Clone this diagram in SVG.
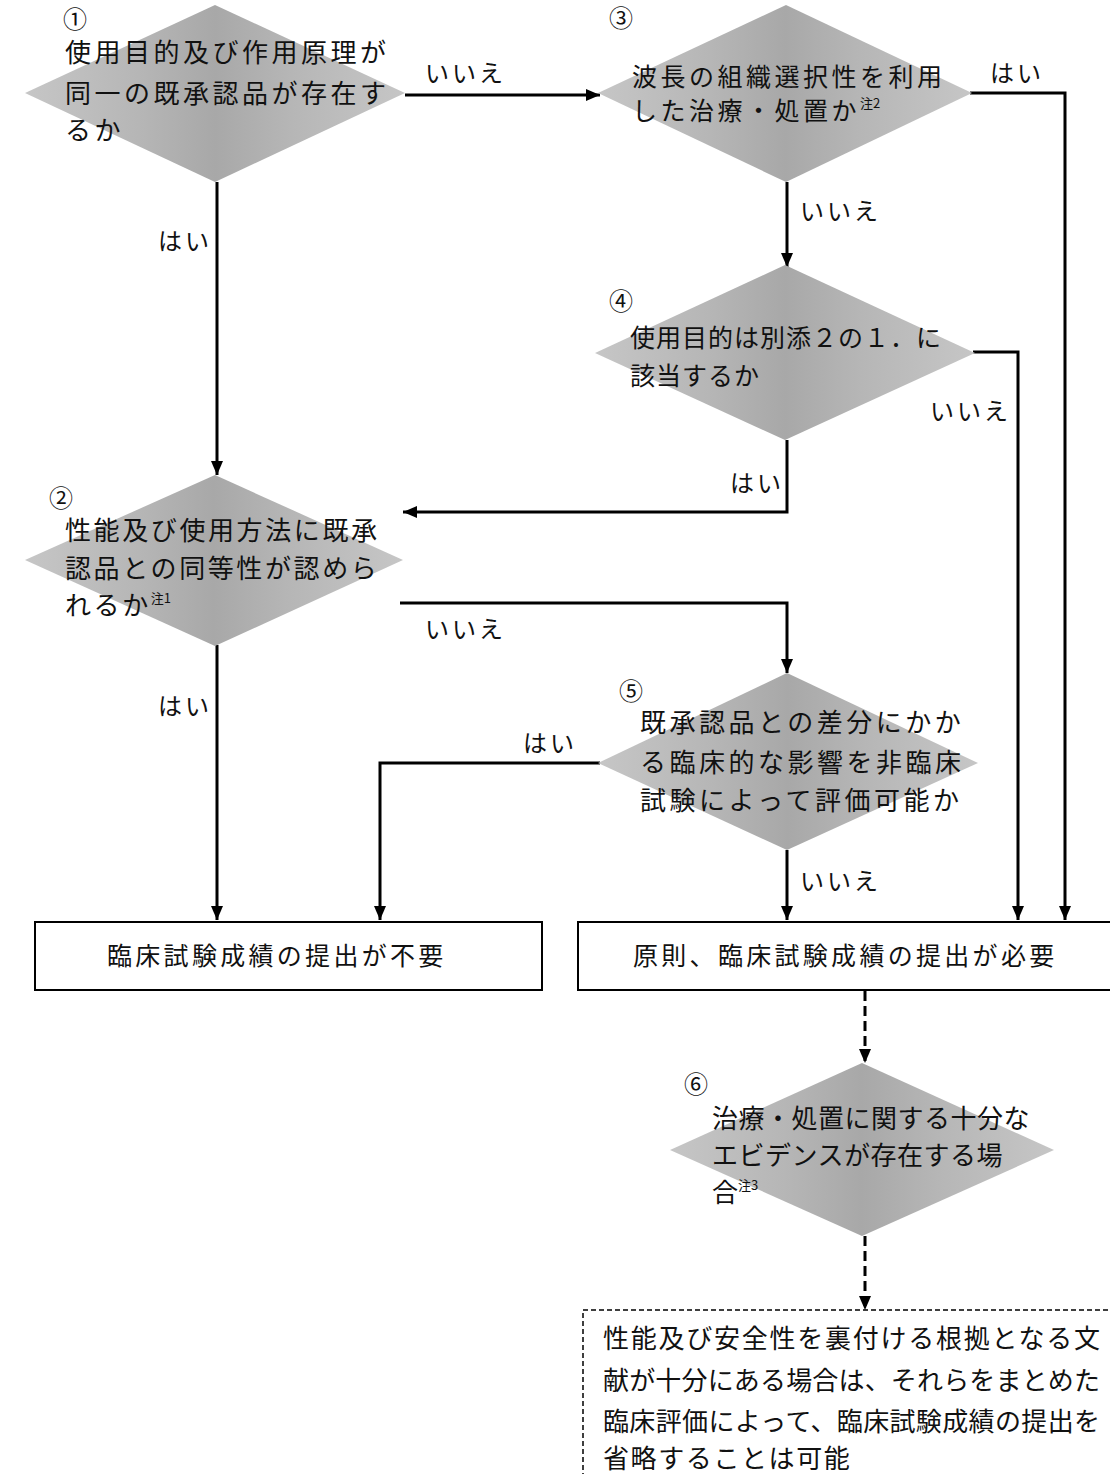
<svg xmlns="http://www.w3.org/2000/svg" width="1110" height="1474" viewBox="0 0 1110 1474">
<style>
.t{font-family:"Noto Sans CJK JP","Noto Sans CJK SC",sans-serif;font-size:26px;fill:#111}
.n{font-family:"Noto Sans CJK JP","DejaVu Sans",sans-serif;font-size:24px;fill:#111}
.lb{font-family:"Noto Sans CJK JP",sans-serif;font-size:24px;fill:#111;letter-spacing:3px}
.sup{font-size:13px}
.dia{fill:url(#g);stroke:none}
.c{fill:none;stroke:#000;stroke-width:3}
.d{fill:none;stroke:#000;stroke-width:3;stroke-dasharray:10 5}
.box{fill:#fff;stroke:#000;stroke-width:2}
</style>
<defs>
<linearGradient id="g" x1="0" y1="0" x2="1" y2="0">
<stop offset="0" stop-color="#c6c6c6"/>
<stop offset="0.3" stop-color="#b6b6b6"/>
<stop offset="0.5" stop-color="#a8a8a8"/>
<stop offset="0.7" stop-color="#b6b6b6"/>
<stop offset="1" stop-color="#c6c6c6"/>
</linearGradient>
<marker id="a" markerUnits="userSpaceOnUse" markerWidth="14" markerHeight="12" refX="14" refY="6" orient="auto">
<path d="M0,0 L14,6 L0,12 z" fill="#000"/>
</marker>
</defs>
<rect width="1110" height="1474" fill="#fff"/>

<g id="connectors">
<path class="c" d="M405,95 H600" marker-end="url(#a)"/>
<path class="c" d="M970,93 H1065 V920" marker-end="url(#a)"/>
<path class="c" d="M787,182 V267" marker-end="url(#a)"/>
<path class="c" d="M973,352 H1018 V920" marker-end="url(#a)"/>
<path class="c" d="M787,440 V512 H403" marker-end="url(#a)"/>
<path class="c" d="M217,182 V475" marker-end="url(#a)"/>
<path class="c" d="M400,603 H787 V673" marker-end="url(#a)"/>
<path class="c" d="M217,645 V920" marker-end="url(#a)"/>
<path class="c" d="M600,763 H380 V920" marker-end="url(#a)"/>
<path class="c" d="M787,850 V920" marker-end="url(#a)"/>
<path class="d" d="M865,991 V1063" marker-end="url(#a)"/>
<path class="d" d="M865,1236 V1310" marker-end="url(#a)"/>
<text class="lb" x="425" y="82">いいえ</text>
<text class="lb" x="990" y="82">はい</text>
<text class="lb" x="800" y="220">いいえ</text>
<text class="lb" x="158" y="250">はい</text>
<text class="lb" x="930" y="420">いいえ</text>
<text class="lb" x="730" y="492">はい</text>
<text class="lb" x="425" y="638">いいえ</text>
<text class="lb" x="158" y="715">はい</text>
<text class="lb" x="523" y="752">はい</text>
<text class="lb" x="800" y="890">いいえ</text>
</g>

<g id="node1">
<polygon class="dia" points="215,5 405,93 215,182 25,93"/>
<text class="n" x="63" y="28">①</text>
<text class="t" style="letter-spacing:3.5px" x="65" y="62">使用目的及び作用原理が</text>
<text class="t" style="letter-spacing:3.5px" x="65" y="103">同一の既承認品が存在す</text>
<text class="t" style="letter-spacing:3.5px" x="65" y="140">るか</text>
</g>

<g id="node3">
<polygon class="dia" points="786,5 972,93 786,182 598,93"/>
<text class="n" x="609" y="27">③</text>
<text class="t" style="font-size:25px;letter-spacing:3.5px" x="632" y="86">波長の組織選択性を利用</text>
<text class="t" style="font-size:25px;letter-spacing:3.5px" x="632" y="120">した治療・処置か<tspan class="sup" dy="-12" style="letter-spacing:0">注2</tspan></text>
</g>

<g id="node4">
<polygon class="dia" points="785,265 975,353 785,440 595,353"/>
<text class="n" x="609" y="310">④</text>
<text class="t" style="font-size:25px;letter-spacing:1px" x="630" y="347">使用目的は別添２の１．に</text>
<text class="t" style="font-size:25px;letter-spacing:1px" x="630" y="385">該当するか</text>
</g>

<g id="node2">
<polygon class="dia" points="215,475 403,560 215,646 25,560"/>
<text class="n" x="49" y="507">②</text>
<text class="t" style="letter-spacing:2.6px" x="65" y="540">性能及び使用方法に既承</text>
<text class="t" style="letter-spacing:2.6px" x="65" y="578">認品との同等性が認めら</text>
<text class="t" style="letter-spacing:2.6px" x="65" y="615">れるか<tspan class="sup" dy="-12" style="letter-spacing:0">注1</tspan></text>
</g>

<g id="node5">
<polygon class="dia" points="787,673 978,763 787,850 598,763"/>
<text class="n" x="619" y="700">⑤</text>
<text class="t" style="letter-spacing:3.5px" x="640" y="732">既承認品との差分にかか</text>
<text class="t" style="letter-spacing:3.5px" x="640" y="772">る臨床的な影響を非臨床</text>
<text class="t" style="letter-spacing:3.5px" x="640" y="810">試験によって評価可能か</text>
</g>

<g id="box1">
<rect class="box" x="35" y="922" width="507" height="68"/>
<text class="t" style="font-size:25px;letter-spacing:3.3px" x="107" y="965">臨床試験成績の提出が不要</text>
</g>

<g id="box2">
<rect class="box" x="578" y="922" width="540" height="68"/>
<text class="t" style="font-size:25px;letter-spacing:3.3px" x="633" y="965">原則、臨床試験成績の提出が必要</text>
</g>

<g id="node6">
<polygon class="dia" points="862,1063 1054,1150 862,1236 670,1150"/>
<text class="n" x="684" y="1093">⑥</text>
<text class="t" style="letter-spacing:0.5px" x="712" y="1128">治療・処置に関する十分な</text>
<text class="t" style="letter-spacing:0.5px" x="712" y="1165">エビデンスが存在する場</text>
<text class="t" x="712" y="1202">合<tspan class="sup" dy="-12">注3</tspan></text>
</g>

<g id="box3">
<rect x="583" y="1310" width="540" height="180" fill="#fff" stroke="#000" stroke-width="1.5" stroke-dasharray="5 3"/>
<text class="t" x="603" y="1348" textLength="497" lengthAdjust="spacing">性能及び安全性を裏付ける根拠となる文</text>
<text class="t" x="603" y="1390" textLength="497" lengthAdjust="spacing">献が十分にある場合は、それらをまとめた</text>
<text class="t" x="603" y="1431" textLength="497" lengthAdjust="spacing">臨床評価によって、臨床試験成績の提出を</text>
<text class="t" style="letter-spacing:1.6px" x="603" y="1468">省略することは可能</text>
</g>
</svg>
